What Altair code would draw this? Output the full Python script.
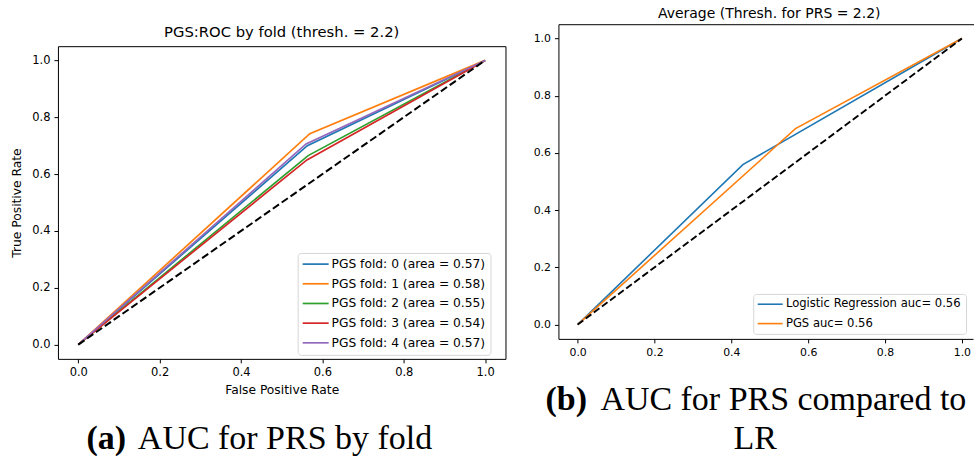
import altair as alt
import pandas as pd

# ---------------- data ----------------
fold_labels = [
    "PGS fold: 0 (area = 0.57)",
    "PGS fold: 1 (area = 0.58)",
    "PGS fold: 2 (area = 0.55)",
    "PGS fold: 3 (area = 0.54)",
    "PGS fold: 4 (area = 0.57)",
]
fold_fpr = [
    [0.0, 0.563, 1.0],
    [0.0, 0.569, 1.0],
    [0.0, 0.565, 1.0],
    [0.0, 0.562, 1.0],
    [0.0, 0.560, 1.0],
]
fold_tpr = [
    [0.0, 0.700, 1.0],
    [0.0, 0.742, 1.0],
    [0.0, 0.665, 1.0],
    [0.0, 0.650, 1.0],
    [0.0, 0.706, 1.0],
]
fold_colors = ["#1f77b4", "#ff7f0e", "#2ca02c", "#d62728", "#9467bd"]

avg_labels = ["Logistic Regression auc= 0.56", "PGS auc= 0.56"]
avg_fpr = [
    [0.0, 0.430, 1.0],
    [0.0, 0.567, 1.0],
]
avg_tpr = [
    [0.0, 0.559, 1.0],
    [0.0, 0.685, 1.0],
]
avg_colors = ["#1f77b4", "#ff7f0e"]

chance_fpr = [0.0, 1.0]
chance_tpr = [0.0, 1.0]
tick_values = [0.0, 0.2, 0.4, 0.6, 0.8, 1.0]

title_left = "PGS:ROC by fold (thresh. = 2.2)"
title_right = "Average (Thresh. for PRS = 2.2)"
xlabel_left = "False Positive Rate"
ylabel_left = "True Positive Rate"


def long_table(labels, xs, ys):
    rows = []
    for lab, fx, fy in zip(labels, xs, ys):
        for i, (a, b) in enumerate(zip(fx, fy)):
            rows.append({"series": lab, "fpr": a, "tpr": b, "step": i})
    return pd.DataFrame(rows)


df_folds = long_table(fold_labels, fold_fpr, fold_tpr)
df_avg = long_table(avg_labels, avg_fpr, avg_tpr)
df_chance = pd.DataFrame({"fpr": chance_fpr, "tpr": chance_tpr})
one = pd.DataFrame({"k": [0]})

axis_style = dict(
    grid=False, domainColor="black", domainWidth=1, tickColor="black",
    tickSize=4, tickWidth=1, labelFont="DejaVu Sans", labelColor="black",
    labelPadding=4, titleFont="DejaVu Sans", titleFontWeight="normal",
    titleColor="black", labelFlush=False, labelOverlap=False,
    values=tick_values, format=".1f",
)


def text_mark(txt, x, y, size, font="DejaVu Sans", weight="normal",
              align="center", baseline="middle"):
    return alt.Chart(pd.DataFrame({"t": [txt]})).mark_text(
        align=align, baseline=baseline, font=font, fontSize=size,
        fontWeight=weight, color="black"
    ).encode(x=alt.value(x), y=alt.value(y), text="t:N")


def rule(x, y, x2=None, y2=None):
    enc = dict(x=alt.value(x), y=alt.value(y))
    if x2 is not None:
        enc["x2"] = alt.value(x2)
    if y2 is not None:
        enc["y2"] = alt.value(y2)
    return alt.Chart(one).mark_rule(color="black", strokeWidth=1).encode(**enc)


no_frame = alt.ViewBackground(stroke="transparent", strokeWidth=0)

# ---------------- left panel ----------------
LW, LH = 506, 359
x_left = alt.X("fpr:Q",
               scale=alt.Scale(domain=[-0.05, 1.05], range=[58, 506], nice=False, zero=False),
               axis=alt.Axis(title=xlabel_left, labelFontSize=11.5, titleFontSize=12.3,
                             titlePadding=5, **axis_style))
y_left = alt.Y("tpr:Q",
               scale=alt.Scale(domain=[-0.05, 1.05], range=[359, 46], nice=False, zero=False),
               axis=alt.Axis(title=ylabel_left, offset=-58, labelFontSize=11.5,
                             titleFontSize=12.3, titlePadding=8, minExtent=0, **axis_style))

left_lines = alt.Chart(df_folds).mark_line(strokeWidth=1.7).encode(
    x=x_left, y=y_left, order="step:Q",
    color=alt.Color("series:N", sort=fold_labels,
                    scale=alt.Scale(domain=fold_labels, range=fold_colors),
                    legend=alt.Legend(
                        title=None, orient="none", legendX=298, legendY=253,
                        symbolType="M0,0H26", symbolSize=4, symbolOffset=-6.15,
                        symbolStrokeWidth=1.7, labelFont="DejaVu Sans",
                        labelFontSize=12.3, labelColor="black", labelOffset=22.7,
                        labelLimit=400, rowPadding=6.7, padding=5, cornerRadius=3,
                        strokeColor="#d6d6d6", fillColor="rgba(255,255,255,0.8)")),
)
left_diag = alt.Chart(df_chance).mark_line(
    color="black", strokeWidth=2, strokeDash=[7.5, 3.3]
).encode(x=x_left, y=y_left)

left = alt.layer(
    left_lines, left_diag,
    rule(58.5, 46.5, x2=506.5),
    rule(506.5, 46.5, y2=359.5),
    text_mark(title_left, 282, 33, 14.8),
    text_mark("(a)", 86.5, 449, 34, font="Liberation Serif", weight="bold",
              align="left", baseline="alphabetic"),
    text_mark("AUC for PRS by fold", 138, 449, 34, font="Liberation Serif",
              align="left", baseline="alphabetic"),
).properties(width=LW, height=LH, view=no_frame)

# ---------------- right panel ----------------
RW, RH = 459, 339
x_right = alt.X("fpr:Q",
                scale=alt.Scale(domain=[-0.05, 1.029], range=[43, 458], nice=False, zero=False),
                axis=alt.Axis(title=None, labelFontSize=10.9, **axis_style))
y_right = alt.Y("tpr:Q",
                scale=alt.Scale(domain=[-0.05, 1.05], range=[339, 24], nice=False, zero=False),
                axis=alt.Axis(title=None, offset=-43, labelFontSize=10.9, minExtent=0,
                              **axis_style))

right_lines = alt.Chart(df_avg).mark_line(strokeWidth=1.6).encode(
    x=x_right, y=y_right, order="step:Q",
    color=alt.Color("series:N", sort=avg_labels,
                    scale=alt.Scale(domain=avg_labels, range=avg_colors),
                    legend=alt.Legend(
                        title=None, orient="none", legendX=238, legendY=294,
                        symbolType="M0,0H25", symbolSize=4, symbolOffset=-5.8,
                        symbolStrokeWidth=1.6, labelFont="DejaVu Sans",
                        labelFontSize=11.6, labelColor="black", labelOffset=22.4,
                        labelLimit=400, rowPadding=6.4, padding=4.5, cornerRadius=3,
                        strokeColor="#d6d6d6", fillColor="rgba(255,255,255,0.8)")),
)
right_diag = alt.Chart(df_chance).mark_line(
    color="black", strokeWidth=1.9, strokeDash=[7, 3.1]
).encode(x=x_right, y=y_right)

right = alt.layer(
    right_lines, right_diag,
    rule(43.5, 24.5, x2=459),
    text_mark(title_right, 254, 13.3, 14),
    text_mark("(b)", 30, 410, 34, font="Liberation Serif", weight="bold",
              align="left", baseline="alphabetic"),
    text_mark("AUC for PRS compared to", 85, 410, 34, font="Liberation Serif",
              align="left", baseline="alphabetic"),
    text_mark("LR", 240, 449, 34, font="Liberation Serif", baseline="alphabetic"),
).properties(width=RW, height=RH, view=no_frame)

chart = alt.hconcat(left, right, spacing=9).resolve_scale(
    color="independent", x="independent", y="independent"
).properties(padding=0).configure_view(
    stroke="transparent", strokeWidth=0
).configure(font="DejaVu Sans")

chart.save("out.html", embed_options={"renderer": "svg", "actions": False})
